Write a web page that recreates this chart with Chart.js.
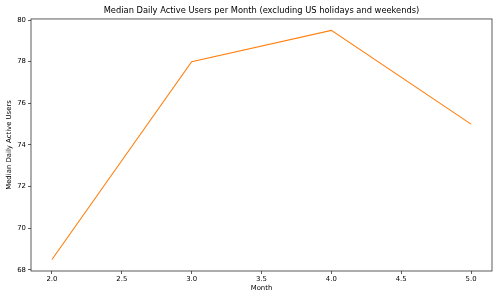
<!DOCTYPE html>
<html>
<head>
<meta charset="utf-8">
<script src="https://cdn.jsdelivr.net/npm/chart.js@4"></script>
<style>
  html, body { margin: 0; padding: 0; background: #fff; }
  #wrap { width: 500px; height: 300px; }
</style>
</head>
<body>
<div id="wrap"><canvas id="dauChart" width="500" height="300"></canvas></div>
<script>
const months = [2, 3, 4, 5];
const medianDau = [68.5, 78, 79.5, 75];
const xTicks = [2.0, 2.5, 3.0, 3.5, 4.0, 4.5, 5.0];
const yTicks = [68, 70, 72, 74, 76, 78, 80];

// draws the full box around the plot like matplotlib spines
const frameBox = {
  id: 'frameBox',
  afterDraw(chart) {
    const a = chart.chartArea;
    const c = chart.ctx;
    c.save();
    c.strokeStyle = '#333';
    c.lineWidth = 0.8;
    c.strokeRect(a.left, a.top, a.right - a.left, a.bottom - a.top);
    c.restore();
  }
};

const ctx = document.getElementById('dauChart').getContext('2d');
Chart.defaults.font.family = 'DejaVu Sans';
Chart.defaults.color = '#000';

new Chart(ctx, {
  type: 'line',
  data: {
    datasets: [{
      label: 'Median DAU',
      data: months.map((m, i) => ({ x: m, y: medianDau[i] })),
      borderColor: '#ff7f0e',
      borderWidth: 1.1,
      pointRadius: 0,
      tension: 0,
      fill: false
    }]
  },
  options: {
    responsive: false,
    animation: false,
    layout: { padding: { left: 0, right: 8, top: 0, bottom: 0 } },
    plugins: {
      legend: { display: false },
      tooltip: { enabled: false },
      title: {
        display: true,
        fullSize: false,
        text: 'Median Daily Active Users per Month (excluding US holidays and weekends)',
        font: { size: 8.3, weight: 'normal' },
        color: '#000',
        padding: { top: 6, bottom: 3 }
      }
    },
    scales: {
      x: {
        type: 'linear',
        min: 1.85,
        max: 5.15,
        afterBuildTicks: s => { s.ticks = xTicks.map(v => ({ value: v })); },
        afterFit: s => { s.height = 29; },
        border: { display: false },
        grid: { drawOnChartArea: false, drawTicks: true, tickLength: 3, color: '#333', lineWidth: 0.8 },
        ticks: { font: { size: 6.9 }, padding: 1, maxRotation: 0, callback: v => v.toFixed(1) },
        title: { display: true, text: 'Month', font: { size: 6.9 }, padding: { top: 0, bottom: 7.8 } }
      },
      y: {
        min: 67.95,
        max: 80.05,
        afterBuildTicks: s => { s.ticks = yTicks.map(v => ({ value: v })); },
        afterFit: s => { s.width = 31; },
        border: { display: false },
        grid: { drawOnChartArea: false, drawTicks: true, tickLength: 3, color: '#333', lineWidth: 0.8 },
        ticks: { font: { size: 6.9 }, padding: 2, callback: v => String(v) },
        title: { display: true, text: 'Median Daily Active Users', font: { size: 6.9 }, padding: { top: 5, bottom: 0 } }
      }
    }
  },
  plugins: [frameBox]
});
</script>
</body>
</html>
